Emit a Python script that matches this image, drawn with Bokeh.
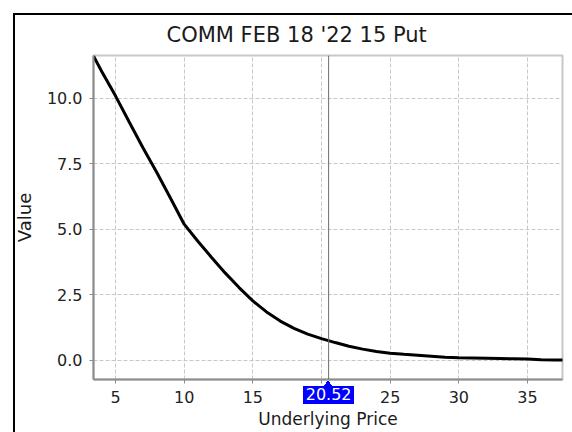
from bokeh.plotting import figure
from bokeh.models import Range1d, Span, FixedTicker, NumeralTickFormatter, LinearAxis
from bokeh.embed import file_html
from bokeh.resources import INLINE

title_text = "COMM FEB 18 '22 15 Put"
x_label = "Underlying Price"
y_label = "Value"

underlying_price = [3.4, 4, 5, 6, 7, 8, 9, 10, 11, 12, 13, 14, 15, 16, 17, 18, 19, 20,
                    21, 22, 23, 24, 25, 26, 27, 28, 29, 30, 31, 32, 33, 34, 35, 36, 37, 37.6]
option_value = [11.62, 11.03, 10.1, 9.1, 8.12, 7.18, 6.2, 5.2, 4.55, 3.93, 3.33, 2.78, 2.27,
                1.85, 1.5, 1.22, 1.0, 0.83, 0.68, 0.54, 0.43, 0.34, 0.27, 0.23, 0.2, 0.16,
                0.12, 0.10, 0.09, 0.08, 0.07, 0.06, 0.05, 0.02, 0.01, 0.01]
current_price = 20.52

x_ticks = [5, 10, 15, 20, 25, 30, 35]
y_ticks = [0.0, 2.5, 5.0, 7.5, 10.0]
x_min, x_max = 3.4, 37.55
y_min, y_max = -0.73, 11.64

FONT = "DejaVu Sans"
W, H = 572, 432
BL, BR, BT, BB = 93, 10, 55, 53
FW = W - BL - BR

# screen position of the current price (for the badge decoration behind its label)
cx = BL + (current_price - x_min) / (x_max - x_min) * FW
bx, by, bw, bh = cx - 25.5, H - BB + 7, 51, 18

p = figure(width=W, height=H, output_backend="svg", toolbar_location=None,
           x_range=Range1d(x_min, x_max), y_range=Range1d(y_min, y_max),
           min_border_left=BL, min_border_right=BR, min_border_top=BT, min_border_bottom=BB)

# white page, black window edge (left/top) and the blue price badge, drawn as CSS layers
p.border_fill_alpha = 0
p.background_fill_color = "white"
p.styles = {
    "background-color": "white",
    "background-image": ", ".join([
        "linear-gradient(#000,#000)",
        "linear-gradient(#000,#000)",
        "linear-gradient(#0000ff,#0000ff)",
        "linear-gradient(to bottom right, transparent 50%, #0000ff 50%)",
        "linear-gradient(to bottom left, transparent 50%, #0000ff 50%)",
    ]),
    "background-size": f"2px 100%, 100% 2px, {bw}px {bh}px, 4px 6px, 4px 6px",
    "background-position": (f"13px 13px, 13px 13px, {bx:.1f}px {by}px, "
                            f"{cx - 4:.1f}px {by - 6}px, {cx:.1f}px {by - 6}px"),
    "background-repeat": "no-repeat",
}

p.title.text = title_text
p.title.text_font = FONT
p.title.text_font_size = "21px"
p.title.text_font_style = "normal"
p.title.text_color = "#1a1a1a"
p.title.align = "left"
p.title.offset = 73
p.title.standoff = 18
p.title.background_fill_color = None

p.outline_line_color = "#c8c8c8"
p.outline_line_width = 2

for ax in (p.xaxis, p.yaxis):
    ax.axis_line_color = "#8c8c8c"
    ax.axis_line_width = 2
    ax.major_tick_line_color = "#8c8c8c"
    ax.major_tick_out = 4
    ax.major_tick_in = 0
    ax.minor_tick_line_color = None
    ax.major_label_text_font = FONT
    ax.major_label_text_font_size = "16px"
    ax.major_label_text_color = "#222222"
    ax.axis_label_text_font = FONT
    ax.axis_label_text_font_style = "normal"
    ax.axis_label_text_color = "#1a1a1a"

p.xaxis.ticker = FixedTicker(ticks=x_ticks)
p.xaxis.major_label_overrides = {20: ""}
p.xaxis.major_label_standoff = 7
p.xaxis.axis_label = x_label
p.xaxis.axis_label_text_font_size = "17px"
p.xaxis.axis_label_standoff = 3

p.yaxis.ticker = FixedTicker(ticks=y_ticks)
p.yaxis.formatter = NumeralTickFormatter(format="0.0")
p.yaxis.major_label_standoff = 7
p.yaxis.axis_label = y_label
p.yaxis.axis_label_text_font_size = "18px"
p.yaxis.axis_label_standoff = 9

p.grid.grid_line_color = "#c8c8c8"
p.grid.grid_line_dash = "4 2"
p.grid.grid_line_width = 1

p.line(underlying_price, option_value, line_color="black", line_width=3)

# crosshair at the current underlying price
p.add_layout(Span(location=current_price, dimension="height",
                  line_color="#6e6e6e", line_width=1))

# current-price label: a second x axis stacked after the main one, its label pulled
# back up into the tick-label row with a negative standoff
badge = LinearAxis(ticker=FixedTicker(ticks=[current_price]),
                   formatter=NumeralTickFormatter(format="0.00"),
                   axis_line_color=None, major_tick_line_color=None,
                   major_tick_out=0, major_tick_in=0, minor_tick_line_color=None,
                   major_label_standoff=-44, major_label_text_font=FONT,
                   major_label_text_font_size="16px", major_label_text_color="white")
p.add_layout(badge, "below")

open("out.html", "w").write(file_html(p, INLINE))
